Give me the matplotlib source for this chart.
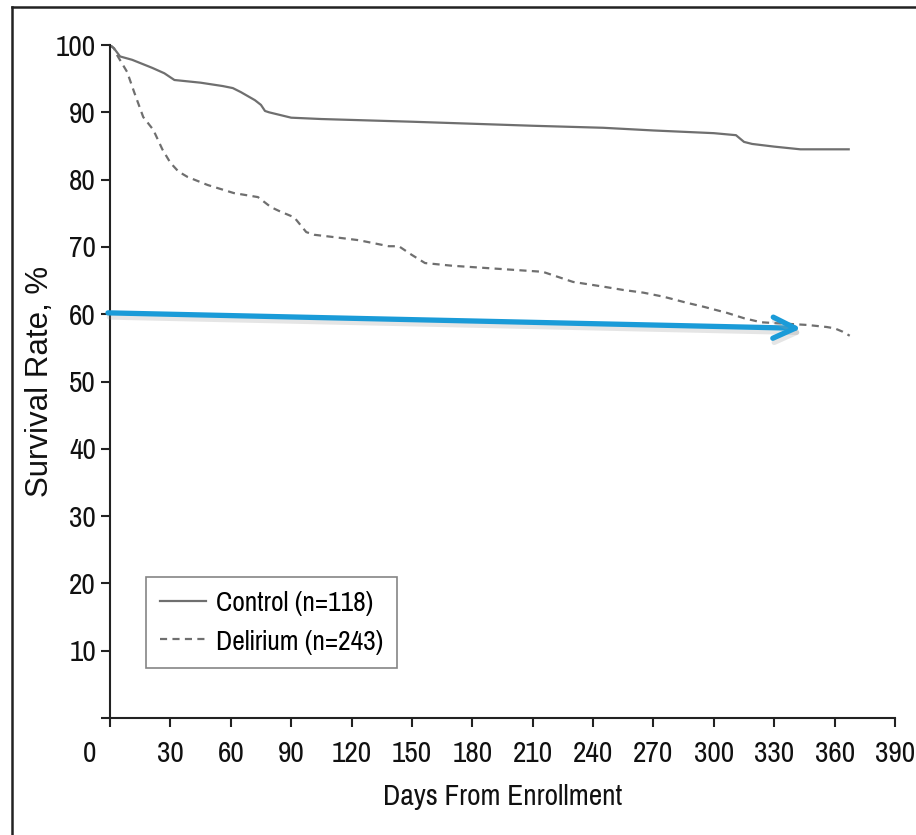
import matplotlib
matplotlib.use("Agg")
import matplotlib.pyplot as plt
import matplotlib.patheffects as pe
from matplotlib.lines import Line2D
from matplotlib.transforms import ScaledTranslation

# узкий шрифт как в статье
plt.rcParams['font.family'] = ['Pragati Narrow', 'Roboto Condensed', 'DejaVu Sans']

# Кривые выживаемости (дни / процент)
control_days = [0, 2, 5, 11, 21, 27, 32, 45, 56, 61, 65, 72, 75, 77, 79, 90, 105, 150, 180, 210,
                245, 270, 300, 311, 315, 319, 330, 343, 367]
control_surv = [100, 99.5, 98.3, 97.8, 96.6, 95.8, 94.8, 94.4, 93.9, 93.6, 93.0, 91.8, 91.1, 90.2, 90.0,
                89.2, 89.0, 88.6, 88.3, 88.0, 87.7, 87.3, 86.9, 86.6, 85.6, 85.3, 84.9, 84.5, 84.5]

delirium_days = [0, 2, 3.5, 8.5, 12, 16.5, 21.5, 26, 30, 34, 38.5, 48.5, 61.5, 73.5, 80, 85, 91.5, 97.5,
                 101.5, 110, 123.5, 138.5, 143.5, 150, 156.5, 170, 185, 200, 215, 230, 245, 255, 265,
                 275, 286.5, 295, 306.5, 315, 323.5, 335, 346.5, 356, 360, 364, 367.5]
delirium_surv = [100, 99.5, 98.5, 96, 93, 89.3, 87.4, 84.5, 82.5, 81.2, 80.4, 79.2, 78.0, 77.4, 75.9, 75.2,
                 74.4, 72.2, 71.8, 71.5, 71.0, 70.1, 70.1, 68.8, 67.6, 67.2, 66.9, 66.6, 66.3, 64.8, 64.1,
                 63.6, 63.2, 62.6, 61.7, 61.1, 60.2, 59.4, 58.8, 58.6, 58.4, 58.1, 57.9, 57.4, 56.8]

labels = ['Control (n=118)', 'Delirium (n=243)']
x_ticks = list(range(0, 391, 30))
y_ticks = list(range(0, 101, 10))

# стрелка: откуда и куда (дни, %)
arrow_from = (-1, 60.2)
arrow_to = (343.5, 57.9)

fig = plt.figure(figsize=(9.16, 8.35), dpi=100)
ax = fig.add_axes([110 / 916, 1 - 718 / 835, 785 / 916, 673 / 835])

ax.plot(control_days, control_surv, color='#6f6f6f', lw=1.6, label=labels[0])
ax.plot(delirium_days, delirium_surv, color='#6f6f6f', lw=1.6, ls=(0, (3.2, 2.4)), label=labels[1])

ax.set_xlim(0, 390)
ax.set_ylim(0, 100)
for s in ['top', 'right']:
    ax.spines[s].set_visible(False)
for s in ['left', 'bottom']:
    ax.spines[s].set_linewidth(1.5)
    ax.spines[s].set_color('#222222')

ax.set_xticks(x_ticks)
ax.set_yticks(y_ticks)
ax.set_yticklabels([''] + [str(v) for v in y_ticks[1:]])
ax.tick_params(axis='both', length=6.5, width=1.5, color='#222222', labelsize=23, labelcolor='#111111')
ax.tick_params(axis='x', pad=10)
ax.tick_params(axis='y', pad=3.5)

# подпись "0" сдвинута влево от оси
lab0 = ax.get_xticklabels()[0]
lab0.set_transform(lab0.get_transform() + ScaledTranslation(-0.2, 0, fig.dpi_scale_trans))

ax.set_xlabel('Days From Enrollment', fontsize=23, color='#111111', va='center')
# подпись оси Y обычным (не узким) шрифтом
ax.set_ylabel('Survival Rate, %', fontsize=22.5, color='#111111', va='center',
              family=['Liberation Sans', 'DejaVu Sans'])
ax.xaxis.set_label_coords(0.5, -0.117)
ax.yaxis.set_label_coords(-0.089, 0.5)

leg = ax.legend(loc='upper left', bbox_to_anchor=(0.046, 0.2095), borderaxespad=0, fontsize=21.5,
                handlelength=1.57, handletextpad=0.33, labelspacing=0.42, borderpad=0.45,
                fancybox=False, frameon=True)
leg.get_frame().set_edgecolor('#666666')
leg.get_frame().set_linewidth(1.2)

# голубая стрелка с тенью
ann = ax.annotate('', xy=arrow_to, xytext=arrow_from, annotation_clip=False,
                  arrowprops=dict(arrowstyle='->, head_length=0.8, head_width=0.38', mutation_scale=20,
                                  color='#1a9bd8', lw=3.8, shrinkA=0, shrinkB=0, capstyle='round',
                                  joinstyle='round'))
ann.arrow_patch.set_path_effects([pe.SimpleLineShadow(offset=(1, -3), shadow_color='#999999', alpha=0.25),
                                  pe.Normal()])

# рамка слева и сверху
fig.add_artist(Line2D([12 / 916, 12 / 916], [0, 1 - 7 / 835], color='#222222', lw=1.8))
fig.add_artist(Line2D([12 / 916, 1], [1 - 7 / 835, 1 - 7 / 835], color='#222222', lw=1.8))

fig.savefig('out.png', dpi=100)
